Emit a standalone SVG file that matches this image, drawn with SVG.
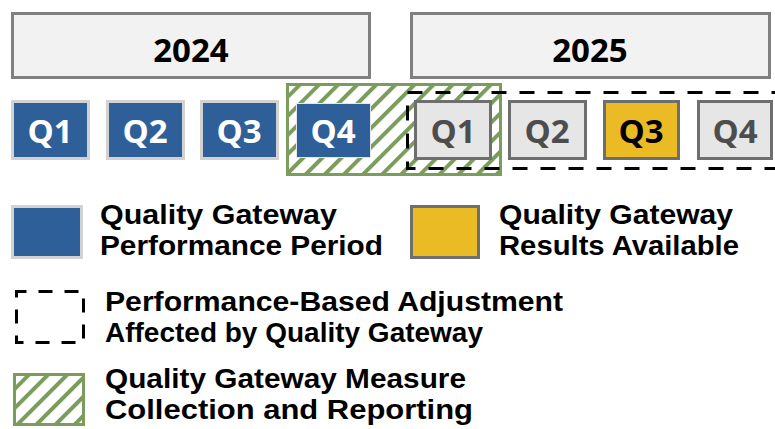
<svg xmlns="http://www.w3.org/2000/svg" width="775" height="429" viewBox="0 0 775 429">
<defs>
<pattern id="hatch" patternUnits="userSpaceOnUse" width="13.5" height="13.5" patternTransform="rotate(45)">
<rect x="0" y="0" width="4" height="13.5" fill="#7b9c5d"/>
</pattern>
<style>
.year{fill:#f2f2f2;stroke:#808080;stroke-width:3}
.yt{font-family:"Open Sans","Liberation Sans",sans-serif;font-weight:700;font-size:33px;fill:#000;text-anchor:middle}
.qb{fill:#2f5f98;stroke:#d2d2d2;stroke-width:3}
.qg{fill:#e6e6e6;stroke:#6e6e6e;stroke-width:3}
.qy{fill:#ebbb26;stroke:#6e6e6e;stroke-width:3}
.qt{font-family:"Open Sans","Liberation Sans",sans-serif;font-weight:700;font-size:33px;text-anchor:middle}
.w{fill:#fff}.g{fill:#4d4d4d}.k{fill:#000}
.hb{fill:url(#hatch);stroke:#7b9c5d;stroke-width:3}
.dash{fill:none;stroke:#000;stroke-width:3;stroke-dasharray:15 13}
.lt{font-family:"Liberation Sans",Arial,sans-serif;font-weight:700;font-size:27.5px;fill:#000}
</style>
</defs>
<rect width="775" height="429" fill="#fff"/>
<g id="year-2024"><rect class="year" x="12.5" y="13.5" width="357" height="64"/><text class="yt" x="191" y="62">2024</text></g>
<g id="year-2025"><rect class="year" x="411.5" y="13.5" width="358" height="64"/><text class="yt" x="590" y="62">2025</text></g>
<g id="collection-period"><rect class="hb" x="287.5" y="84.5" width="213" height="90"/></g>
<g id="q1-2024"><rect class="qb" x="12.5" y="101.5" width="76" height="57"/><text class="qt w" x="50" y="143">Q1</text></g>
<g id="q2-2024"><rect class="qb" x="107.5" y="101.5" width="76" height="57"/><text class="qt w" x="145" y="143">Q2</text></g>
<g id="q3-2024"><rect class="qb" x="201.5" y="101.5" width="76" height="57"/><text class="qt w" x="239" y="143">Q3</text></g>
<g id="q4-2024"><rect x="296.5" y="103.5" width="74" height="54" fill="#2f5f98" stroke="#e4e8ee" stroke-width="1"/><text class="qt w" x="333" y="143">Q4</text></g>
<g id="q1-2025"><rect class="qg" x="415.5" y="101.5" width="75" height="57"/><text class="qt g" x="453" y="143">Q1</text></g>
<g id="q2-2025"><rect class="qg" x="509.5" y="101.5" width="76" height="57"/><text class="qt g" x="547" y="143">Q2</text></g>
<g id="q3-2025"><rect class="qy" x="604.5" y="101.5" width="74" height="57"/><text class="qt k" x="641" y="143">Q3</text></g>
<g id="q4-2025"><rect class="qg" x="698.5" y="101.5" width="73" height="57"/><text class="qt g" x="735" y="143">Q4</text></g>
<g id="adjustment-period"><rect class="dash" x="407.5" y="92.5" width="400" height="76"/></g>
<g id="legend-performance"><rect class="qb" x="12.5" y="206.5" width="69" height="51"/><text class="lt" x="100" y="224" textLength="237" lengthAdjust="spacingAndGlyphs">Quality Gateway</text><text class="lt" x="100" y="255" textLength="283" lengthAdjust="spacingAndGlyphs">Performance Period</text></g>
<g id="legend-results"><rect class="qy" x="411.5" y="206.5" width="67" height="51"/><text class="lt" x="499" y="224" textLength="234" lengthAdjust="spacingAndGlyphs">Quality Gateway</text><text class="lt" x="499" y="255" textLength="240" lengthAdjust="spacingAndGlyphs">Results Available</text></g>
<g id="legend-adjustment"><rect class="dash" x="16.5" y="291.5" width="67" height="51" style="stroke-dasharray:14 12;stroke-dashoffset:4"/><text class="lt" x="105" y="311" textLength="458" lengthAdjust="spacingAndGlyphs">Performance-Based Adjustment</text><text class="lt" x="105" y="342" textLength="378" lengthAdjust="spacingAndGlyphs">Affected by Quality Gateway</text></g>
<g id="legend-collection"><rect class="hb" x="14.5" y="374.5" width="69" height="50"/><text class="lt" x="105" y="388" textLength="361" lengthAdjust="spacingAndGlyphs">Quality Gateway Measure</text><text class="lt" x="105" y="419" textLength="368" lengthAdjust="spacingAndGlyphs">Collection and Reporting</text></g>
</svg>
